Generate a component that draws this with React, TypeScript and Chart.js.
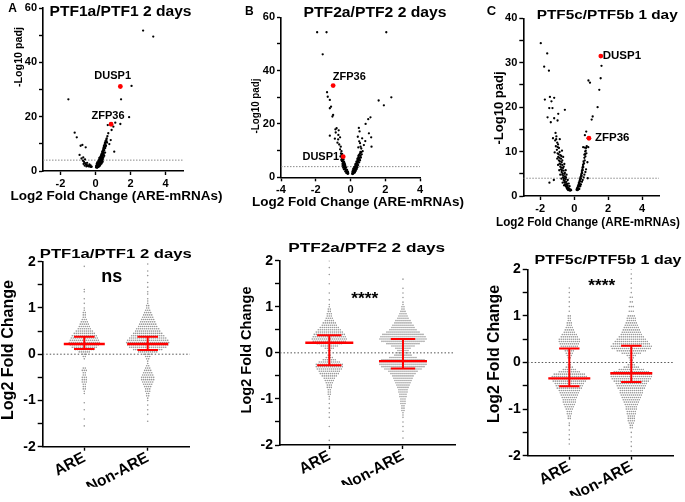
import React, { useEffect, useRef } from 'react';
import { Chart, registerables } from 'chart.js';
Chart.register(...registerables);

const FONT = '"Liberation Sans", Arial, Helvetica, sans-serif';
const PAGE_W = 685;
const PAGE_H = 502;

// ---------------- Volcano data (log2 fold change, -log10 padj) ----------------
const volcanoA: [number, number][] = [
  [2.72, 51.7], [3.3, 49.5], [2.06, 31.3], [1.46, 26.4], [-1.55, 26.4], [1.92, 19.8], [1.42, 17.3], [1.13, 17.8],
  [0.7, 16.9], [1.02, 16.3], [0.92, 15.1], [-1.19, 14.1], [-1.07, 12.4], [0.73, 13.9], [0.64, 12.0], [0.87, 11.4],
  [0.79, 9.9], [-0.85, 9.3], [-0.75, 9.6], [-0.56, 8.7], [1.07, 7.1], [-0.7, 5.0], [-0.6, 4.3],
  [-0.91, 5.9], [-0.8, 4.6], [-0.72, 3.8], [-0.66, 3.4], [-0.6, 2.9], [-0.55, 2.5], [-0.5, 2.2], [-0.45, 2.0],
  [-0.42, 1.8], [-0.38, 1.7], [-0.35, 2.4], [-0.3, 1.6], [-0.28, 2.1], [-0.25, 1.5], [-0.62, 2.0], [-0.52, 1.7],
  [-0.48, 3.0], [-0.68, 2.6], [-0.33, 1.9], [-0.22, 1.6],
  [0.03, 1.3], [0.05, 1.6], [0.06, 2.0], [0.08, 1.4], [0.09, 2.4], [0.1, 1.8], [0.11, 2.8], [0.12, 1.5],
  [0.13, 2.2], [0.14, 3.1], [0.15, 1.9], [0.16, 2.6], [0.17, 3.5], [0.18, 2.1], [0.19, 3.0], [0.2, 4.0],
  [0.21, 2.4], [0.22, 3.4], [0.23, 4.4], [0.24, 2.8], [0.25, 3.8], [0.26, 4.8], [0.27, 3.2], [0.28, 5.2],
  [0.29, 4.2], [0.3, 3.6], [0.31, 5.6], [0.32, 4.6], [0.33, 6.0], [0.34, 4.0], [0.35, 5.0], [0.36, 6.4],
  [0.37, 5.4], [0.38, 7.0], [0.39, 4.6], [0.4, 6.0], [0.41, 7.4], [0.42, 5.6], [0.43, 6.6], [0.44, 8.0],
  [0.45, 7.0], [0.46, 8.6], [0.47, 6.2], [0.48, 9.2], [0.5, 7.6], [0.52, 9.8], [0.54, 10.4], [0.55, 8.4],
  [0.57, 11.0], [0.6, 9.4], [0.62, 11.6], [0.66, 10.5], [0.68, 12.8], [0.5, 5.6], [0.45, 5.0], [0.38, 3.9],
  [0.28, 2.6], [0.2, 1.7], [0.14, 1.4], [0.33, 3.0], [0.42, 4.4], [0.55, 6.8], [0.25, 2.0], [0.36, 3.4],
  [0.04, 1.8], [0.07, 2.6], [0.1, 3.2], [0.12, 2.0], [0.15, 2.9], [0.18, 3.8], [0.2, 2.6], [0.22, 4.8],
  [0.24, 3.3], [0.27, 4.4], [0.3, 5.0], [0.32, 3.7], [0.35, 4.4], [0.38, 5.8], [0.4, 5.0], [0.43, 7.2],
  [0.46, 6.6], [0.48, 7.8], [0.5, 9.0], [0.53, 8.6], [0.56, 10.0], [0.58, 9.0], [0.6, 10.6], [0.63, 11.0],
  [0.09, 1.2], [0.16, 1.5], [0.23, 1.9], [0.29, 2.4], [0.35, 2.8], [0.41, 3.4],
];
const volcanoB: [number, number][] = [
  [-1.92, 54.4], [-1.38, 54.4], [2.06, 54.4], [-1.6, 46.1], [-1.35, 31.9], [-1.31, 30.2], [-1.19, 29], [2.35, 30],
  [1.62, 28.8], [1.92, 27], [-1.19, 25.9], [-1.12, 26.5], [-1.04, 22.8], [-1.0, 23.4], [1.15, 22.5], [1.02, 21.8],
  [0.87, 20], [-0.87, 18], [-0.8, 18.4], [0.48, 18.5], [-1.19, 15.6], [1.06, 16.5], [1.19, 15], [-0.7, 15.9],
  [-0.6, 15], [-0.71, 14.2], [-0.56, 11.5], [0.42, 15.2], [1.21, 11.5], [0.67, 14.6], [0.77, 12.1], [0.58, 11.5],
  [-0.85, 16.8], [-0.75, 13], [-0.65, 12.3], [-0.6, 10.5], [-0.52, 9.8], [-0.68, 17.6], [-0.9, 14.5],
  [0.5, 13.5], [0.55, 12.8], [0.62, 10.8], [0.45, 11.2], [0.7, 9.8], [0.85, 13.6], [0.52, 17.2],
  [-0.5, 7.2], [-0.47, 6.8], [-0.45, 6.2], [-0.43, 5.7], [-0.41, 5.2], [-0.4, 6.6], [-0.38, 4.7], [-0.36, 4.2],
  [-0.35, 5.4], [-0.33, 3.8], [-0.31, 3.3], [-0.3, 4.5], [-0.28, 2.9], [-0.26, 2.5], [-0.25, 3.6], [-0.23, 2.1],
  [-0.21, 1.8], [-0.2, 2.8], [-0.18, 1.5], [-0.16, 1.3], [-0.15, 2.0], [-0.13, 1.4], [-0.52, 8.4], [-0.55, 9.0],
  [-0.45, 4.4], [-0.38, 3.0], [-0.3, 2.2], [-0.24, 1.6], [-0.58, 7.8], [-0.42, 3.6],
  [-0.49, 6.0], [-0.46, 5.0], [-0.44, 7.4], [-0.4, 4.0], [-0.37, 5.8], [-0.34, 3.1], [-0.32, 4.9], [-0.29, 3.9],
  [-0.27, 2.3], [-0.22, 2.6], [-0.19, 1.9], [-0.17, 2.2], [-0.14, 1.7], [-0.48, 8.8], [-0.53, 6.5],
  [0.1, 1.3], [0.12, 1.6], [0.14, 2.0], [0.15, 1.4], [0.17, 2.5], [0.18, 1.8], [0.2, 3.0], [0.21, 2.2],
  [0.23, 3.5], [0.24, 2.6], [0.26, 4.0], [0.27, 3.0], [0.29, 4.5], [0.3, 3.4], [0.32, 5.0], [0.33, 3.9],
  [0.35, 5.5], [0.36, 4.4], [0.38, 6.0], [0.39, 4.9], [0.41, 6.6], [0.42, 5.4], [0.44, 7.2], [0.45, 6.0],
  [0.47, 7.8], [0.48, 6.5], [0.5, 8.4], [0.52, 7.0], [0.55, 9.0], [0.58, 8.0], [0.62, 9.4], [0.65, 8.6],
  [0.3, 2.4], [0.36, 3.2], [0.44, 4.6], [0.5, 5.6], [0.25, 1.8], [0.4, 3.8], [0.55, 6.4], [0.6, 7.4],
  [0.11, 2.0], [0.13, 2.6], [0.16, 3.2], [0.19, 2.4], [0.22, 3.9], [0.25, 3.3], [0.28, 4.9], [0.31, 4.2],
  [0.34, 5.9], [0.37, 5.1], [0.4, 7.0], [0.43, 6.2], [0.46, 8.1], [0.49, 7.3], [0.53, 8.7], [0.57, 9.5],
  [0.12, 1.2], [0.18, 1.5], [0.24, 2.1], [0.33, 2.9],
];
const volcanoC: [number, number][] = [
  [-1.97, 34.4], [-1.59, 32.1], [-1.77, 29.1], [-1.49, 28.2], [1.61, 29.3], [1.56, 26.5], [0.84, 26], [0.93, 25.5],
  [1.48, 23.9], [-1.73, 21.7], [-1.43, 22.3], [-1.18, 22.1], [-1.34, 21.3], [-1.28, 19.8], [-1.47, 19.8],
  [-0.55, 19.4], [1.38, 20], [1.09, 17.9], [-1.57, 17.7], [-1.18, 17.5], [-0.94, 18.5], [-0.98, 17.0], [-1.38, 16.6],
  [1.03, 17.2], [0.71, 14.5], [0.63, 13.7], [0.79, 13.0], [0.53, 11], [0.83, 11], [-1.46, 3], [-1.2, 3.6],
  [-1.1, 14.2], [-1.05, 13.4], [-1.12, 12.5], [-1.0, 12.0], [-1.08, 11.2], [-0.95, 11.6], [-1.02, 10.4], [-0.9, 10.8],
  [-0.98, 9.6], [-0.86, 9.9], [-0.94, 8.8], [-0.82, 9.2], [-0.9, 8.0], [-0.78, 8.4], [-0.86, 7.3], [-0.74, 7.6],
  [-0.82, 6.6], [-0.7, 7.0], [-0.78, 6.0], [-0.66, 6.3], [-0.74, 5.4], [-0.62, 5.7], [-0.7, 4.8], [-0.58, 5.0],
  [-0.66, 4.2], [-0.54, 4.4], [-0.62, 3.6], [-0.5, 3.8], [-0.58, 3.1], [-0.46, 3.2], [-0.54, 2.6], [-0.42, 2.7],
  [-0.5, 2.2], [-0.38, 2.3], [-0.44, 1.8], [-0.34, 1.9], [-0.4, 1.5], [-0.3, 1.6], [-0.26, 1.4], [-0.22, 1.5],
  [-0.18, 1.3], [-0.35, 1.3], [-0.6, 2.4], [-0.68, 3.0], [-0.75, 3.9], [-0.82, 4.8], [-0.88, 5.8], [-0.95, 7.0],
  [-1.0, 8.4], [-1.15, 9.8], [-0.72, 10.2], [-0.65, 8.8], [-0.58, 7.2], [-0.5, 5.8], [-0.45, 4.8], [-0.38, 3.6],
  [-0.32, 2.8], [-0.27, 2.2], [-0.85, 12.8], [-1.25, 13.0],
  [-1.06, 12.8], [-0.97, 11.0], [-0.92, 9.4], [-0.88, 8.6], [-0.84, 7.8], [-0.8, 7.1], [-0.76, 6.4], [-0.72, 5.8],
  [-0.68, 5.1], [-0.64, 4.6], [-0.6, 4.0], [-0.56, 3.4], [-0.52, 3.0], [-0.48, 2.5], [-0.44, 2.1], [-0.4, 1.8],
  [-0.36, 1.6], [-0.32, 1.4], [-0.28, 1.3], [-0.24, 1.2], [-0.76, 9.0], [-0.7, 8.0], [-0.62, 6.6], [-0.55, 5.2],
  [-0.48, 4.2],
  [0.14, 1.4], [0.18, 1.3], [0.2, 1.9], [0.24, 1.6], [0.25, 2.5], [0.28, 2.1], [0.3, 3.1], [0.33, 2.7],
  [0.34, 3.7], [0.37, 3.3], [0.38, 4.3], [0.4, 3.9], [0.42, 4.9], [0.44, 4.5], [0.45, 5.6], [0.47, 5.2],
  [0.49, 6.3], [0.5, 5.8], [0.52, 7.0], [0.54, 6.5], [0.55, 7.8], [0.58, 7.3], [0.6, 8.6], [0.62, 8.0],
  [0.64, 9.4], [0.66, 8.9], [0.68, 10.2], [0.72, 9.6], [0.74, 11.2], [0.3, 1.6], [0.4, 2.6], [0.5, 3.6],
  [0.6, 4.8], [0.7, 6.0], [0.78, 7.6], [0.66, 5.4], [0.56, 4.2], [0.46, 3.2], [0.36, 2.2], [0.26, 1.5],
  [0.8, 4], [0.62, 10.9],
  [0.16, 1.7], [0.22, 2.2], [0.27, 2.9], [0.32, 3.4], [0.36, 4.0], [0.41, 4.6], [0.45, 5.2], [0.48, 5.9],
  [0.51, 6.6], [0.56, 7.4], [0.6, 9.3], [0.65, 10.0], [0.7, 10.8], [0.22, 1.4], [0.34, 2.4],
];
const highlightGenes = ['DUSP1', 'ZFP36'];
const highlightA: [number, number][] = [[1.42, 31.1], [0.89, 17.2]];
const highlightB: [number, number][] = [[-0.42, 7.75], [-1.0, 34.4]];
const highlightC: [number, number][] = [[1.57, 31.5], [0.87, 13.0]];
const padjThreshold = 4;

const volcanoXTicksA = [-2, 0, 2, 4];
const volcanoXTicksB = [-4, -2, 0, 2, 4];
const volcanoXTicksC = [-2, 0, 2, 4];
const volcanoYMajorAB = [0, 20, 40, 60];
const volcanoYMinorAB = [10, 30, 50];
const volcanoYMajorC = [0, 10, 20, 30, 40];
const volcanoYMinorC = [5, 15, 25, 35];

// ---------------- Beeswarm data: [log2 fold change bin, number of genes] ----------------
const groups = ['ARE', 'Non-ARE'];
const swarmYMajor = [-2, -1, 0, 1, 2];
const swarmYMinor = [-1.5, -0.5, 0.5, 1.5];

const swarmA_ARE: [number, number][] = [
  [1.9, 1], [1.4, 1], [1.35, 1], [1.2, 1], [1.1, 1], [1.0, 1], [0.95, 1], [0.9, 2], [0.85, 2], [0.8, 2], [0.75, 3],
  [0.7, 4], [0.65, 5], [0.6, 6], [0.55, 7], [0.5, 9], [0.45, 11], [0.4, 13], [0.35, 14], [0.3, 15], [0.25, 16],
  [0.2, 15], [0.15, 13], [0.1, 10], [0.05, 6], [0, 3], [-0.05, 2], [-0.1, 1], [-0.3, 2], [-0.35, 3], [-0.4, 2],
  [-0.45, 2], [-0.5, 3], [-0.55, 3], [-0.6, 3], [-0.65, 2], [-0.7, 2], [-0.75, 2], [-0.8, 1], [-0.85, 1],
  [-1.05, 1], [-1.2, 1], [-1.4, 1], [-1.55, 1],
];
const swarmA_NonARE: [number, number][] = [
  [1.95, 1], [1.8, 1], [1.7, 1], [1.55, 1], [1.45, 1], [1.35, 1], [1.3, 1], [1.2, 1], [1.15, 1], [1.1, 1],
  [1.05, 2], [1.0, 2], [0.95, 3], [0.9, 4], [0.85, 5], [0.8, 6], [0.75, 7], [0.7, 8], [0.65, 9], [0.6, 10],
  [0.55, 12], [0.5, 13], [0.45, 15], [0.4, 17], [0.35, 19], [0.3, 21], [0.25, 22], [0.2, 21], [0.15, 19],
  [0.1, 15], [0.05, 10], [0, 5], [-0.05, 3], [-0.1, 2], [-0.15, 1], [-0.2, 1], [-0.25, 2], [-0.3, 3], [-0.35, 4],
  [-0.4, 5], [-0.45, 6], [-0.5, 7], [-0.55, 7], [-0.6, 6], [-0.65, 5], [-0.7, 4], [-0.75, 3], [-0.8, 3],
  [-0.85, 2], [-0.9, 2], [-0.95, 1], [-1.0, 1], [-1.1, 1], [-1.2, 1], [-1.3, 1], [-1.45, 1],
];
const swarmB_ARE: [number, number][] = [
  [2.0, 1], [1.85, 1], [1.7, 1], [1.5, 1], [1.3, 1], [1.15, 1], [1.05, 1], [1.0, 1], [0.95, 2], [0.9, 2],
  [0.85, 3], [0.8, 3], [0.75, 4], [0.7, 5], [0.65, 7], [0.6, 8], [0.55, 10], [0.5, 12], [0.45, 14], [0.4, 16],
  [0.35, 17], [0.3, 18], [0.25, 17], [0.2, 13], [0.15, 9], [0.1, 5], [0.05, 2], [0, 1], [-0.05, 2], [-0.1, 4],
  [-0.15, 7], [-0.2, 11], [-0.25, 14], [-0.3, 14], [-0.35, 13], [-0.4, 11], [-0.45, 10], [-0.5, 8], [-0.55, 6],
  [-0.6, 5], [-0.65, 4], [-0.7, 3], [-0.75, 3], [-0.8, 2], [-0.85, 2], [-0.9, 2], [-0.95, 1], [-1.0, 1],
  [-1.1, 1], [-1.2, 1], [-1.3, 1], [-1.4, 1], [-1.6, 1], [-1.9, 1],
];
const swarmB_NonARE: [number, number][] = [
  [1.6, 1], [1.4, 1], [1.3, 1], [1.2, 1], [1.1, 1], [1.05, 1], [1.0, 2], [0.95, 2], [0.9, 3], [0.85, 4],
  [0.8, 5], [0.75, 6], [0.7, 8], [0.65, 9], [0.6, 11], [0.55, 12], [0.5, 14], [0.45, 17], [0.4, 21], [0.35, 23],
  [0.3, 24], [0.25, 22], [0.2, 17], [0.15, 12], [0.1, 8], [0.05, 6], [0, 6], [-0.05, 9], [-0.1, 14], [-0.15, 22],
  [-0.2, 24], [-0.25, 24], [-0.3, 22], [-0.35, 19], [-0.4, 15], [-0.45, 13], [-0.5, 11], [-0.55, 10], [-0.6, 9],
  [-0.65, 8], [-0.7, 7], [-0.75, 6], [-0.8, 5], [-0.85, 5], [-0.9, 4], [-0.95, 4], [-1.0, 3], [-1.05, 3],
  [-1.1, 3], [-1.15, 2], [-1.2, 2], [-1.25, 2], [-1.3, 1], [-1.35, 1], [-1.4, 1], [-1.5, 1], [-1.6, 1],
  [-1.7, 1], [-1.85, 1],
];
const swarmC_ARE: [number, number][] = [
  [1.6, 1], [1.5, 1], [1.4, 1], [1.3, 1], [1.2, 1], [1.1, 1], [1.0, 2], [0.95, 2], [0.9, 2], [0.85, 3], [0.8, 3],
  [0.75, 4], [0.7, 5], [0.65, 6], [0.6, 8], [0.55, 9], [0.5, 11], [0.45, 11], [0.4, 10], [0.35, 9], [0.3, 7],
  [0.25, 5], [0.2, 4], [0.15, 3], [0.1, 2], [0.05, 1], [-0.05, 2], [-0.1, 4], [-0.15, 7], [-0.2, 11], [-0.25, 16],
  [-0.3, 18], [-0.35, 18], [-0.4, 17], [-0.45, 15], [-0.5, 14], [-0.55, 13], [-0.6, 11], [-0.65, 10], [-0.7, 9],
  [-0.75, 8], [-0.8, 7], [-0.85, 7], [-0.9, 6], [-0.95, 5], [-1.0, 4], [-1.05, 3], [-1.1, 3], [-1.15, 2],
  [-1.2, 2], [-1.3, 1], [-1.35, 1], [-1.45, 1], [-1.55, 1], [-1.65, 1], [-1.75, 1],
];
const swarmC_NonARE: [number, number][] = [
  [2.0, 1], [1.9, 1], [1.8, 1], [1.7, 1], [1.6, 1], [1.5, 1], [1.4, 2], [1.3, 2], [1.2, 3], [1.1, 3], [1.0, 4],
  [0.95, 5], [0.9, 5], [0.85, 6], [0.8, 7], [0.75, 8], [0.7, 9], [0.65, 10], [0.6, 11], [0.55, 13], [0.5, 15],
  [0.45, 17], [0.4, 19], [0.35, 21], [0.3, 20], [0.25, 15], [0.2, 10], [0.15, 5], [0.1, 3], [0.05, 2], [0, 2],
  [-0.05, 4], [-0.1, 8], [-0.15, 13], [-0.2, 18], [-0.25, 21], [-0.3, 21], [-0.35, 20], [-0.4, 18], [-0.45, 16],
  [-0.5, 15], [-0.55, 14], [-0.6, 12], [-0.65, 12], [-0.7, 11], [-0.75, 10], [-0.8, 9], [-0.85, 8], [-0.9, 7],
  [-0.95, 6], [-1.0, 6], [-1.05, 5], [-1.1, 5], [-1.15, 4], [-1.2, 4], [-1.25, 4], [-1.3, 3], [-1.35, 2],
  [-1.4, 2], [-1.5, 1], [-1.6, 1], [-1.7, 1], [-1.8, 1], [-1.9, 1],
];
// median, first quartile, third quartile for [ARE, Non-ARE]
const medianA = [0.22, 0.22];
const q1A = [0.11, 0.09];
const q3A = [0.38, 0.38];
const medianB = [0.22, -0.18];
const q1B = [-0.27, -0.34];
const q3B = [0.38, 0.3];
const medianC = [-0.34, -0.23];
const q1C = [-0.51, -0.42];
const q3C = [0.3, 0.36];

// ---------------- helpers ----------------
type TextItem = {
  t: string; x: number; y: number; size: number;
  align?: CanvasTextAlign; base?: CanvasTextBaseline; rot?: number; w?: number;
};
type Area = { l: number; t: number; r: number; b: number };

const textPlugin = {
  id: 'pageTexts',
  afterDraw(chart: any, _args: any, opts: any) {
    const ctx = chart.ctx as CanvasRenderingContext2D;
    const items: TextItem[] = opts.items || [];
    items.forEach((it) => {
      ctx.save();
      ctx.font = `bold ${it.size}px ${FONT}`;
      ctx.fillStyle = '#000';
      ctx.textAlign = it.align || 'center';
      ctx.textBaseline = it.base || 'alphabetic';
      ctx.translate(it.x, it.y);
      if (it.rot) ctx.rotate((it.rot * Math.PI) / 180);
      if (it.w) {
        const m = ctx.measureText(it.t).width;
        ctx.scale(it.w / m, 1);
      }
      ctx.fillText(it.t, 0, 0);
      ctx.restore();
    });
  },
};

const Y_BOX = 40;
const X_BOX = 40;

function fixBox(isX: boolean) {
  return (scale: any) => {
    if (isX) scale.height = X_BOX;
    else scale.width = Y_BOX;
    scale.paddingLeft = 0;
    scale.paddingRight = 0;
    scale.paddingTop = 0;
    scale.paddingBottom = 0;
  };
}

function axisStyle(size: number, tickLength: number, pad: number) {
  return {
    border: { display: true, color: '#000', width: 1.6 },
    grid: { display: true, drawOnChartArea: false, drawTicks: true, tickLength, tickColor: '#000', tickWidth: 1.4 },
    ticks: { color: '#000', font: { family: FONT, size, weight: 'bold' as const }, padding: pad, autoSkip: false },
  };
}

function makeConfig(opts: {
  area: Area;
  xMin: number; xMax: number; xTicks: number[]; xLabels?: string[]; xFont: number; xRot?: number;
  xTickLen: number; xPad: number;
  yMin: number; yMax: number; yMajor: number[]; yMinor: number[]; yFont: number; yTickLen: number; yPad: number;
  datasets: any[]; texts: TextItem[];
}) {
  const { area } = opts;
  const yAll = [...opts.yMajor, ...opts.yMinor].sort((a, b) => a - b);
  const xs = axisStyle(opts.xFont, opts.xTickLen, opts.xPad);
  const ys = axisStyle(opts.yFont, opts.yTickLen, opts.yPad);
  return {
    type: 'scatter' as const,
    data: { datasets: opts.datasets },
    plugins: [textPlugin],
    options: {
      animation: false as const,
      responsive: false,
      events: [],
      layout: {
        padding: {
          left: area.l - Y_BOX,
          top: area.t,
          right: PAGE_W - area.r,
          bottom: PAGE_H - area.b - X_BOX,
        },
      },
      plugins: {
        legend: { display: false },
        tooltip: { enabled: false },
        title: { display: false },
        pageTexts: { items: opts.texts },
      },
      scales: {
        x: {
          type: 'linear' as const,
          min: opts.xMin,
          max: opts.xMax,
          ...xs,
          ticks: {
            ...xs.ticks,
            minRotation: opts.xRot || 0,
            maxRotation: opts.xRot || 0,
            callback: (_v: any, i: number) => (opts.xLabels ? opts.xLabels[i] : String(opts.xTicks[i])),
          },
          afterBuildTicks: (scale: any) => {
            scale.ticks = opts.xTicks.map((v) => ({ value: v }));
          },
          afterFit: fixBox(true),
        },
        y: {
          type: 'linear' as const,
          min: opts.yMin,
          max: opts.yMax,
          ...ys,
          ticks: {
            ...ys.ticks,
            callback: (v: any) => (opts.yMajor.includes(Number(v)) ? String(v) : ''),
          },
          afterBuildTicks: (scale: any) => {
            scale.ticks = yAll.map((v) => ({ value: v }));
          },
          afterFit: fixBox(false),
        },
      },
    },
  };
}

function toXY(arr: [number, number][]) {
  return arr.map(([x, y]) => ({ x, y }));
}

function volcanoDatasets(points: [number, number][], hl: [number, number][], xMin: number, xMax: number) {
  return [
    { data: toXY(hl), pointRadius: 2.4, pointBackgroundColor: '#ff0000', pointBorderWidth: 0, showLine: false },
    { data: toXY(points), pointRadius: 1.15, pointBackgroundColor: '#000', pointBorderWidth: 0, showLine: false },
    {
      data: [{ x: xMin, y: padjThreshold }, { x: xMax, y: padjThreshold }],
      showLine: true, pointRadius: 0, borderColor: '#8a8a8a', borderWidth: 1, borderDash: [1.5, 1.5],
    },
  ];
}

function swarmPoints(bins: [number, number][], center: number, unitsPerPx: number, spacingPx: number) {
  const pts: { x: number; y: number }[] = [];
  bins.forEach(([y, n]) => {
    for (let k = 0; k < n; k++) pts.push({ x: center + (k - (n - 1) / 2) * spacingPx * unitsPerPx, y });
  });
  return pts;
}

function swarmDatasets(
  bins: [[number, number][], [number, number][]],
  med: number[], q1: number[], q3: number[],
  area: Area, xMin: number, xMax: number, medHalfPx: number, capHalfPx: number
) {
  const u = (xMax - xMin) / (area.r - area.l);
  const red = '#ff0000';
  const bars: any[] = [];
  [1, 2].forEach((c, i) => {
    bars.push({ data: [{ x: c - medHalfPx * u, y: med[i] }, { x: c + medHalfPx * u, y: med[i] }], showLine: true, pointRadius: 0, borderColor: red, borderWidth: 2.4 });
    bars.push({ data: [{ x: c - capHalfPx * u, y: q1[i] }, { x: c + capHalfPx * u, y: q1[i] }], showLine: true, pointRadius: 0, borderColor: red, borderWidth: 2 });
    bars.push({ data: [{ x: c - capHalfPx * u, y: q3[i] }, { x: c + capHalfPx * u, y: q3[i] }], showLine: true, pointRadius: 0, borderColor: red, borderWidth: 2 });
    bars.push({ data: [{ x: c, y: q1[i] }, { x: c, y: q3[i] }], showLine: true, pointRadius: 0, borderColor: red, borderWidth: 2 });
  });
  const dots = [1, 2].map((c, i) => ({
    data: swarmPoints(bins[i], c, u, 2.0),
    pointRadius: 0.8,
    pointBackgroundColor: 'rgba(140,140,140,0.9)',
    pointBorderWidth: 0,
    showLine: false,
  }));
  const zero = {
    data: [{ x: xMin, y: 0 }, { x: xMax, y: 0 }],
    showLine: true, pointRadius: 0, borderColor: '#555', borderWidth: 1, borderDash: [1.5, 2],
  };
  return [...bars, ...dots, zero];
}

function buildAll() {
  const configs: any[] = [];
  // Volcano A
  {
    const area = { l: 43, t: 8, r: 183, b: 171 };
    configs.push(makeConfig({
      area, xMin: -3, xMax: 5, xTicks: volcanoXTicksA, xFont: 11, xTickLen: 4, xPad: 2,
      yMin: 0, yMax: 60, yMajor: volcanoYMajorAB, yMinor: volcanoYMinorAB, yFont: 11, yTickLen: 4, yPad: 2,
      datasets: volcanoDatasets(volcanoA, highlightA, -3, 5),
      texts: [
        { t: 'A', x: 8.3, y: 11.7, size: 12, align: 'left' },
        { t: 'PTF1a/PTF1 2 days', x: 120.5, y: 16, size: 14, w: 142 },
        { t: '-Log10 padj', x: 19, y: 57, size: 11, rot: -90, base: 'middle', w: 60 },
        { t: 'Log2 Fold Change (ARE-mRNAs)', x: 116.5, y: 200, size: 13, w: 212 },
        { t: highlightGenes[0], x: 112.7, y: 76, size: 11, base: 'middle' },
        { t: highlightGenes[1], x: 108, y: 116, size: 11, base: 'middle' },
      ],
    }));
  }
  // Volcano B
  {
    const area = { l: 281, t: 17.3, r: 420, b: 177.3 };
    configs.push(makeConfig({
      area, xMin: -4, xMax: 4, xTicks: volcanoXTicksB, xFont: 11, xTickLen: 4, xPad: 2,
      yMin: 0, yMax: 60, yMajor: volcanoYMajorAB, yMinor: volcanoYMinorAB, yFont: 11, yTickLen: 4, yPad: 2,
      datasets: volcanoDatasets(volcanoB, highlightB, -4, 4),
      texts: [
        { t: 'B', x: 245, y: 15, size: 12, align: 'left' },
        { t: 'PTF2a/PTF2 2 days', x: 375, y: 17.3, size: 14, w: 143 },
        { t: '-Log10 padj', x: 256, y: 106, size: 11, rot: -90, base: 'middle', w: 55 },
        { t: 'Log2 Fold Change (ARE-mRNAs)', x: 358, y: 206, size: 13, w: 212 },
        { t: highlightGenes[1], x: 349.3, y: 76.7, size: 11, base: 'middle' },
        { t: highlightGenes[0], x: 320.8, y: 156.7, size: 11, base: 'middle' },
      ],
    }));
  }
  // Volcano C
  {
    const area = { l: 523.3, t: 18.3, r: 659, b: 196 };
    configs.push(makeConfig({
      area, xMin: -3, xMax: 5, xTicks: volcanoXTicksC, xFont: 11, xTickLen: 4, xPad: 2,
      yMin: 0, yMax: 40, yMajor: volcanoYMajorC, yMinor: volcanoYMinorC, yFont: 11, yTickLen: 4, yPad: 2,
      datasets: volcanoDatasets(volcanoC, highlightC, -3, 5),
      texts: [
        { t: 'C', x: 486.7, y: 15, size: 13, align: 'left' },
        { t: 'PTF5c/PTF5b 1 day', x: 607.2, y: 19.3, size: 13.5, w: 141 },
        { t: '-Log10 padj', x: 499, y: 108, size: 13, rot: -90, base: 'middle', w: 73 },
        { t: 'Log2 Fold Change (ARE-mRNAs)', x: 588, y: 226, size: 13, w: 184 },
        { t: highlightGenes[0], x: 602.7, y: 56.3, size: 11.5, align: 'left', base: 'middle' },
        { t: highlightGenes[1], x: 595, y: 138, size: 11.5, align: 'left', base: 'middle' },
      ],
    }));
  }
  // Beeswarm A
  {
    const area = { l: 42.7, t: 261.7, r: 190, b: 446.7 };
    const xMin = 0.344, xMax = 2.667;
    configs.push(makeConfig({
      area, xMin, xMax, xTicks: [1, 2], xLabels: groups, xFont: 15.5, xRot: 28, xTickLen: 4, xPad: -2,
      yMin: -2, yMax: 2, yMajor: swarmYMajor, yMinor: swarmYMinor, yFont: 14, yTickLen: 5, yPad: 2,
      datasets: swarmDatasets([swarmA_ARE, swarmA_NonARE], medianA, q1A, q3A, area, xMin, xMax, 20.5, 10.3),
      texts: [
        { t: 'PTF1a/PTF1 2 days', x: 115.8, y: 258.3, size: 13.5, w: 152 },
        { t: 'ns', x: 111.7, y: 281.7, size: 18 },
        { t: 'Log2 Fold Change', x: 8.5, y: 350, size: 16, rot: -90, base: 'middle', w: 140 },
      ],
    }));
  }
  // Beeswarm B
  {
    const area = { l: 280, t: 260.7, r: 455, b: 445 };
    const xMin = 0.331, xMax = 2.706;
    configs.push(makeConfig({
      area, xMin, xMax, xTicks: [1, 2], xLabels: groups, xFont: 15.5, xRot: 28, xTickLen: 4, xPad: -2,
      yMin: -2, yMax: 2, yMajor: swarmYMajor, yMinor: swarmYMinor, yFont: 14, yTickLen: 5, yPad: 2,
      datasets: swarmDatasets([swarmB_ARE, swarmB_NonARE], medianB, q1B, q3B, area, xMin, xMax, 24, 12.2),
      texts: [
        { t: 'PTF2a/PTF2 2 days', x: 366.7, y: 251.7, size: 13.5, w: 157 },
        { t: '****', x: 364.7, y: 304, size: 17, w: 27 },
        { t: 'Log2 Fold Change', x: 246.7, y: 350, size: 15, rot: -90, base: 'middle', w: 127 },
      ],
    }));
  }
  // Beeswarm C
  {
    const area = { l: 527.7, t: 269.3, r: 673, b: 455.7 };
    const xMin = 0.329, xMax = 2.673;
    configs.push(makeConfig({
      area, xMin, xMax, xTicks: [1, 2], xLabels: groups, xFont: 15.5, xRot: 28, xTickLen: 4, xPad: -2,
      yMin: -2, yMax: 2, yMajor: swarmYMajor, yMinor: swarmYMinor, yFont: 14, yTickLen: 5, yPad: 2,
      datasets: swarmDatasets([swarmC_ARE, swarmC_NonARE], medianC, q1C, q3C, area, xMin, xMax, 21, 10.2),
      texts: [
        { t: 'PTF5c/PTF5b 1 day', x: 608, y: 264, size: 13, w: 147 },
        { t: '****', x: 601.7, y: 291.3, size: 17, w: 27 },
        { t: 'Log2 Fold Change', x: 495, y: 354, size: 16, rot: -90, base: 'middle', w: 138 },
      ],
    }));
  }
  return configs;
}

export default function App() {
  const refs = useRef<(HTMLCanvasElement | null)[]>([]);
  useEffect(() => {
    const configs = buildAll();
    const charts = configs.map((cfg, i) => new Chart(refs.current[i] as HTMLCanvasElement, cfg as any));
    return () => charts.forEach((c) => c.destroy());
  }, []);
  return (
    <div style={{ position: 'fixed', left: 0, top: 0, width: PAGE_W, height: PAGE_H, background: '#fff', overflow: 'hidden' }}>
      {[0, 1, 2, 3, 4, 5].map((i) => (
        <canvas
          key={i}
          ref={(el) => { refs.current[i] = el; }}
          width={PAGE_W}
          height={PAGE_H}
          style={{ position: 'absolute', left: 0, top: 0, width: PAGE_W, height: PAGE_H }}
        />
      ))}
    </div>
  );
}
